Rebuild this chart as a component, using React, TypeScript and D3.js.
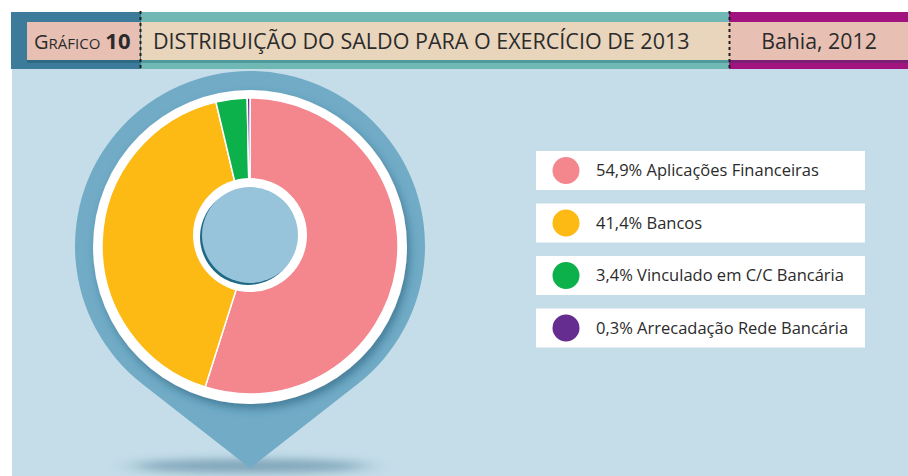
import React from 'react';
import * as d3 from 'd3';

const categories = [
  'Aplicações Financeiras',
  'Bancos',
  'Vinculado em C/C Bancária',
  'Arrecadação Rede Bancária',
];
const values = [54.9, 41.4, 3.4, 0.3];
const sliceColors = ['#f4868e', '#fdb914', '#0db14b', '#662d91'];

const chartNumber = '10';
const chartTitle = 'DISTRIBUIÇÃO DO SALDO PARA O EXERCÍCIO DE 2013';
const chartPlace = 'Bahia, 2012';

const W = 908;
const H = 476;
const FONT = "'Open Sans', 'Noto Sans', sans-serif";

const fmt = (v: number) => v.toFixed(1).replace('.', ',') + '%';

export default function App() {
  // pin geometry
  const cx = 250;
  const cy = 246;
  const pinR = 175;
  const tip = { x: 250, y: 468 };
  const d = tip.y - cy;
  const alpha = Math.acos(pinR / d);
  const aR = Math.PI / 2 - alpha;
  const aL = Math.PI / 2 + alpha;
  const pR = [cx + pinR * Math.cos(aR), cy + pinR * Math.sin(aR)];
  const pinPath = d3.path();
  pinPath.moveTo(tip.x, tip.y);
  pinPath.lineTo(pR[0], pR[1]);
  pinPath.arc(cx, cy, pinR, aR, aL, true);
  pinPath.closePath();

  const pie = d3.pie<number>().sort(null).value(v => v);
  const arcs = pie(values);
  const arc = d3.arc<d3.PieArcDatum<number>>().innerRadius(40).outerRadius(148);

  // legend
  const legendY = d3.scalePoint<string>()
    .domain(categories)
    .range([170.5, 328])
    .padding(0);

  return (
    <svg
      width={W}
      height={H}
      style={{ position: 'fixed', left: 0, top: 0, display: 'block' }}
      fontFamily={FONT}
    >
      <defs>
        <filter id="ringShadow" x="-20%" y="-20%" width="140%" height="140%">
          <feDropShadow dx="3" dy="5" stdDeviation="4" floodColor="#1d5a75" floodOpacity="0.55" />
        </filter>
        <filter id="blur8" x="-50%" y="-300%" width="200%" height="700%">
          <feGaussianBlur stdDeviation="14 4" />
        </filter>
      </defs>

      <rect x={0} y={0} width={W} height={H} fill="#ffffff" />
      {/* body */}
      <rect x={12} y={69} width={W - 12} height={H - 69} fill="#c4dde9" />

      {/* header bands */}
      <rect x={11} y={12} width={130} height={57} fill="#3c7b9a" />
      <rect x={141} y={12} width={588} height={57} fill="#70b8b4" />
      <rect x={729} y={12} width={W - 729} height={57} fill="#a1137f" />

      <rect x={27} y={25} width={113} height={38} fill="#2f6a85" />
      <rect x={27} y={22} width={113} height={38} fill="#e8c0b3" />
      <rect x={141} y={25} width={588} height={38} fill="#4f9b9c" />
      <rect x={141} y={22} width={588} height={38} fill="#e9d5bc" />
      <rect x={729} y={25} width={W - 729} height={38} fill="#7a1f74" />
      <rect x={729} y={22} width={W - 729} height={38} fill="#e8c0b3" />

      <line x1={140.5} y1={11} x2={140.5} y2={70} stroke="#1f1f1f" strokeWidth={2} strokeDasharray="3 3" />
      <line x1={729.5} y1={11} x2={729.5} y2={70} stroke="#1f1f1f" strokeWidth={2} strokeDasharray="3 3" />

      <text x={34} y={49} fill="#2b2b2b">
        <tspan fontSize={20}>G</tspan>
        <tspan fontSize={15}>RÁFICO</tspan>
        <tspan fontSize={22} fontWeight={700} dx={5}>{chartNumber}</tspan>
      </text>
      <text x={153} y={49} fill="#2b2b2b" fontSize={21.5}>{chartTitle}</text>
      <text x={819} y={49} fill="#2b2b2b" fontSize={21.3} textAnchor="middle">{chartPlace}</text>

      {/* pin shadow */}
      <ellipse cx={250} cy={466} rx={118} ry={7} fill="#6f98ae" opacity={0.8} filter="url(#blur8)" />
      {/* pin */}
      <path d={pinPath.toString()} fill="#71abc6" />

      {/* white ring */}
      <circle cx={cx} cy={cy + 1} r={157} fill="#ffffff" filter="url(#ringShadow)" />

      <g transform={`translate(${cx},${cy})`}>
        {arcs.map((a, i) => (
          <path key={categories[i]} d={arc(a) ?? ''} fill={sliceColors[i]} stroke="#ffffff" strokeWidth={1.5} />
        ))}
      </g>

      {/* center hole */}
      <circle cx={cx} cy={235} r={57} fill="#ffffff" />
      <circle cx={cx - 2} cy={237} r={48} fill="#1e6a85" />
      <circle cx={cx} cy={235} r={48} fill="#97c4da" />

      {/* legend */}
      {categories.map((c, i) => {
        const y = legendY(c)!;
        return (
          <g key={c}>
            <rect x={536} y={y - 19.5} width={329} height={39} fill="#ffffff" />
            <circle cx={566} cy={y} r={13.5} fill={sliceColors[i]} />
            <text x={596} y={y} dy="0.35em" fontSize={16.5} fill="#2b2b2b">
              {fmt(values[i])} {c}
            </text>
          </g>
        );
      })}
    </svg>
  );
}
